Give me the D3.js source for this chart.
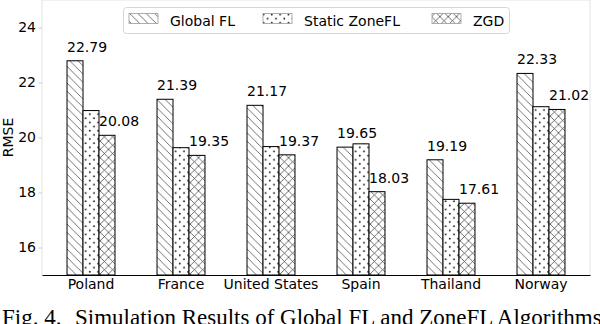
<!DOCTYPE html>
<html>
<head>
<meta charset="utf-8">
<script src="https://cdn.jsdelivr.net/npm/d3@7"></script>
<style>
  body { margin: 0; background: #fff; }
  svg { display: block; font-family: "DejaVu Sans", sans-serif; }
</style>
</head>
<body>
<div class="chart"></div>
<script>
// data
var countries = ["Poland", "France", "United States", "Spain", "Thailand", "Norway"];
var seriesNames = ["Global FL", "Static ZoneFL", "ZGD"];
var globalFL = [22.79, 21.39, 21.17, 19.65, 19.19, 22.33];
var staticZoneFL = [20.98, 19.63, 19.67, 19.77, 17.75, 21.12];
var zgd = [20.08, 19.35, 19.37, 18.03, 17.61, 21.02];
var yTicks = [16, 18, 20, 22, 24];
var captionFig = "Fig. 4.";
var captionText = "Simulation Results of Global FL and ZoneFL Algorithms";

var svgWidth = 600, svgHeight = 324;
var margin = {top: 0, right: 10, bottom: 49, left: 42};
var width = svgWidth - margin.left - margin.right;
var height = svgHeight - margin.top - margin.bottom;
var fontSize = 14;

var svg = d3.select(".chart").append("svg")
    .attr("width", svgWidth)
    .attr("height", svgHeight);

// hatch patterns, one per series
var defs = svg.append("defs");
var S = 8.3;
var pDiag = defs.append("pattern").attr("id", "hatch-diag")
    .attr("patternUnits", "userSpaceOnUse").attr("width", S).attr("height", S);
pDiag.append("rect").attr("width", S).attr("height", S).attr("fill", "#fff");
pDiag.append("path")
    .attr("d", "M-1,-1 L" + (S + 1) + "," + (S + 1) + " M-1," + (S - 1) + " L1," + (S + 1) + " M" + (S - 1) + ",-1 L" + (S + 1) + ",1")
    .attr("stroke", "#333").attr("stroke-width", 0.7);

var pDots = defs.append("pattern").attr("id", "hatch-dots")
    .attr("patternUnits", "userSpaceOnUse").attr("width", S).attr("height", S);
pDots.append("rect").attr("width", S).attr("height", S).attr("fill", "#fff");
pDots.append("circle").attr("cx", S * 0.25).attr("cy", S * 0.25).attr("r", 0.85).attr("fill", "#000");
pDots.append("circle").attr("cx", S * 0.75).attr("cy", S * 0.75).attr("r", 0.85).attr("fill", "#000");

var pCross = defs.append("pattern").attr("id", "hatch-cross")
    .attr("patternUnits", "userSpaceOnUse").attr("width", S).attr("height", S);
pCross.append("rect").attr("width", S).attr("height", S).attr("fill", "#fff");
pCross.append("path")
    .attr("d", "M0,0 L" + S + "," + S + " M0," + S + " L" + S + ",0")
    .attr("stroke", "#333").attr("stroke-width", 0.7);

var fills = ["url(#hatch-diag)", "url(#hatch-dots)", "url(#hatch-cross)"];

var chart = svg.append("g")
    .attr("transform", "translate(" + margin.left + "," + margin.top + ")");

// scales
var x0 = d3.scaleBand().domain(countries).range([0, width])
    .paddingInner(0.467).paddingOuter(0.278);
var x1 = d3.scaleBand().domain(seriesNames).range([0, x0.bandwidth()]);
var y = d3.scaleLinear().domain([15, 25]).range([height, 0]);

var rows = countries.map(function(c, i) {
    return {country: c, values: [globalFL[i], staticZoneFL[i], zgd[i]]};
});

// light frame (left, top, right)
chart.append("path")
    .attr("d", "M0," + height + " V0 H" + width + " V" + height)
    .attr("fill", "none").attr("stroke", "#e3e3e3").attr("stroke-width", 1);

// y axis
var leftAxis = d3.axisLeft(y).tickValues(yTicks).tickSize(3.5).tickPadding(2.5);
var yAxis = chart.append("g").attr("class", "y-axis").call(leftAxis);
yAxis.select(".domain").remove();
yAxis.selectAll(".tick line").attr("stroke", "#ccc");
yAxis.selectAll(".tick text")
    .attr("font-size", fontSize).attr("font-family", "DejaVu Sans").attr("fill", "#000");

// bars
var groups = chart.selectAll(".group").data(rows).enter().append("g")
    .attr("class", "group")
    .attr("transform", function(d) { return "translate(" + x0(d.country) + ",0)"; });

groups.selectAll("rect").data(function(d) {
        return d.values.map(function(v, k) { return {name: seriesNames[k], value: v, k: k}; });
    })
    .enter().append("rect")
    .attr("x", function(d) { return x1(d.name); })
    .attr("y", function(d) { return y(d.value); })
    .attr("width", x1.bandwidth())
    .attr("height", function(d) { return y(15) - y(d.value); })
    .attr("fill", function(d) { return fills[d.k]; })
    .attr("stroke", "#000").attr("stroke-width", 1);

// value labels on Global FL and ZGD only
groups.selectAll(".val").data(function(d) {
        return [{name: seriesNames[0], value: d.values[0]}, {name: seriesNames[2], value: d.values[2]}];
    })
    .enter().append("text")
    .attr("class", "val")
    .attr("x", function(d) { return x1(d.name); })
    .attr("y", function(d) { return y(d.value) - 9; })
    .attr("font-size", fontSize)
    .text(function(d) { return d.value.toFixed(2); });

// bottom axis
var bottomAxis = d3.axisBottom(x0).tickSize(0).tickPadding(4);
var xAxis = chart.append("g").attr("class", "x-axis")
    .attr("transform", "translate(0," + height + ")")
    .call(bottomAxis);
xAxis.select(".domain").attr("stroke", "#000").attr("stroke-width", 1.2);
xAxis.selectAll(".tick text")
    .attr("font-size", fontSize).attr("font-family", "DejaVu Sans").attr("fill", "#000");

// y label
chart.append("text")
    .attr("transform", "rotate(-90)")
    .attr("x", -height / 2)
    .attr("y", -29)
    .attr("text-anchor", "middle")
    .attr("font-size", fontSize)
    .text("RMSE");

// legend
var legend = svg.append("g");
legend.append("rect")
    .attr("x", 123.5).attr("y", 7.5).attr("width", 386).attr("height", 26)
    .attr("rx", 3).attr("fill", "#fff").attr("stroke", "#d6d6d6");
var legendX = [129, 263, 432];
seriesNames.forEach(function(name, k) {
    legend.append("rect")
        .attr("x", legendX[k]).attr("y", 13.5).attr("width", 29).attr("height", 10)
        .attr("fill", fills[k]).attr("stroke", "#999").attr("stroke-width", 0.8);
    legend.append("text")
        .attr("x", legendX[k] + 41).attr("y", 25.5)
        .attr("font-size", fontSize)
        .text(name);
});

// caption (partly cut by the bottom edge, as in the figure)
svg.append("text")
    .attr("x", 2).attr("y", 325)
    .attr("font-family", "Liberation Serif").attr("font-size", 23)
    .text(captionFig);
svg.append("text")
    .attr("x", 75).attr("y", 325)
    .attr("font-family", "Liberation Serif").attr("font-size", 23)
    .text(captionText);
</script>
</body>
</html>
